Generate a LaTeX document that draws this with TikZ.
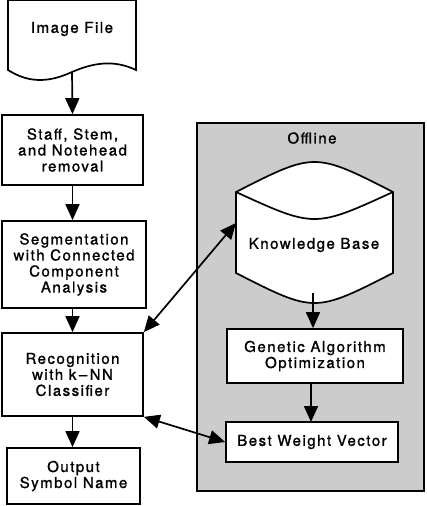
\documentclass[tikz,border=0pt]{standalone}
\usepackage{fontspec}
\setmainfont[LetterSpace=10,FakeBold=1.2]{TeX Gyre Heros}
\usetikzlibrary{arrows.meta}
\begin{document}
\begin{tikzpicture}[x=1pt,y=-1pt,
  lw/.style={line width=1.7pt},
  procbox/.style={draw,lw,fill=white,align=center,inner sep=0pt,font=\fontsize{15}{16}\selectfont},
  txt/.style={align=center,inner sep=0pt,font=\fontsize{15}{16}\selectfont},
  conn/.style={lw,-{Triangle[length=16pt,width=14pt]}},
  dconn/.style={lw,{Triangle[length=16pt,width=14pt]}-{Triangle[length=16pt,width=14pt]}}
]
\useasboundingbox (0,0) rectangle (426,506);
% offline region
\draw[lw,fill=black!20] (197,123) rectangle (424,491);
\node[txt] (offline) at (312,138) {Offline};
% image file document shape
\draw[lw,fill=white] (8,0) -- (136,0) -- (136,70)
  .. controls (115,60) and (95,62) .. (72,72)
  .. controls (50,82) and (30,84) .. (8,70) -- cycle;
\node[txt] (img) at (72,29) {Image File};
\coordinate (imgbot) at (72,72);
% knowledge base cylinder
\draw[lw,fill=white] (236,192) .. controls (314.5,152) .. (393,192) -- (393,273)
  .. controls (314.5,313) .. (236,273) -- cycle;
\draw[lw] (236,192) .. controls (314.5,228) .. (393,192);
\node[txt] (kb) at (314,245) {Knowledge Base};
\coordinate (kbleft) at (236,223);
\coordinate (kbbot) at (313,293);
% boxes
\node[procbox,minimum width=141pt,minimum height=70pt] (staff) at (72.5,150) {Staff, Stem,\\and Notehead\\removal};
\node[procbox,minimum width=144pt,minimum height=87pt] (seg) at (74,264.5) {Segmentation\\with Connected\\Component\\Analysis};
\node[procbox,minimum width=141pt,minimum height=83pt] (rec) at (72.5,374.5) {Recognition\\with k\,--\,NN\\Classifier};
\node[procbox,minimum width=133pt,minimum height=56pt] (out) at (73.5,476) {Output\\Symbol Name};
\node[procbox,minimum width=176pt,minimum height=54pt] (ga) at (315,356) {Genetic Algorithm\\Optimization};
\node[procbox,minimum width=172pt,minimum height=40pt] (bwv) at (312,442) {Best Weight Vector};
% connectors
\draw[conn] (imgbot) -- (staff.north);
\draw[conn] (staff.south) -- (staff.south |- seg.north);
\draw[conn] (staff.south |- seg.south) -- (staff.south |- rec.north);
\draw[conn] (rec.south) -- (rec.south |- out.north);
\draw[conn] (kbbot) -- (kbbot |- ga.north);
\draw[conn] (311,383) -- (311,422);
\draw[dconn] (rec.north east) -- (kbleft);
\draw[dconn] (rec.south east) -- (bwv.west);
\end{tikzpicture}
\end{document}
